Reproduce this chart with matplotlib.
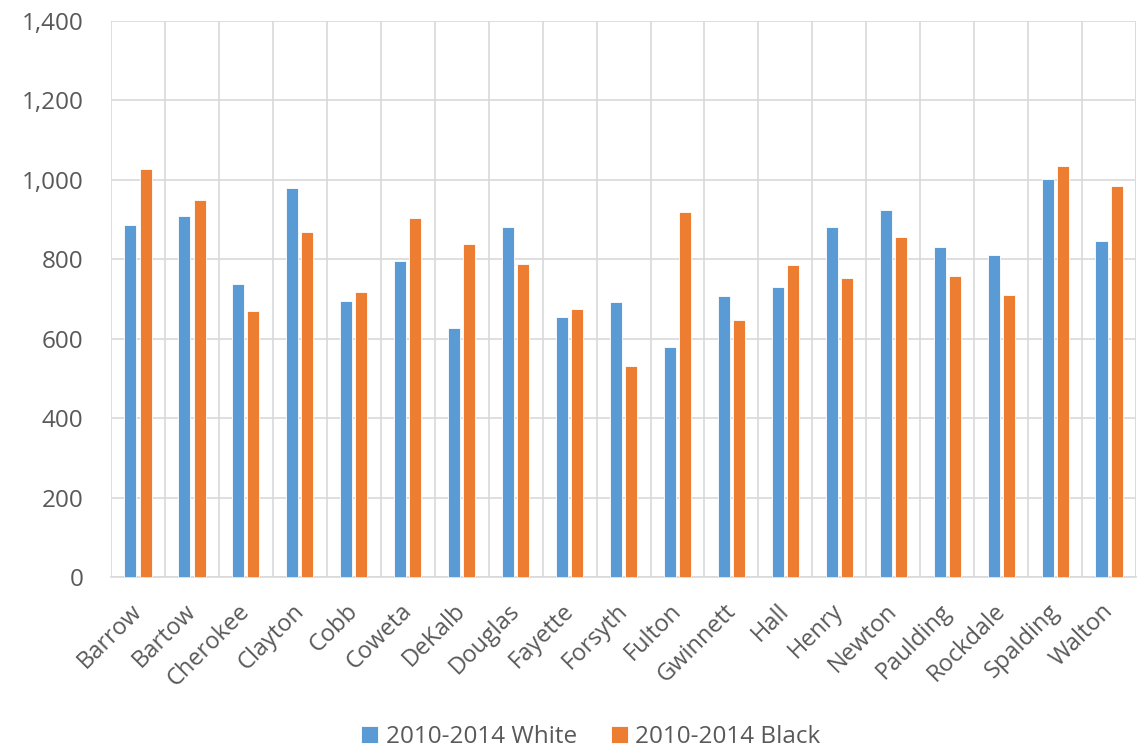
import matplotlib
matplotlib.use("Agg")
import matplotlib.pyplot as plt
import numpy as np
from matplotlib.ticker import FuncFormatter, MultipleLocator

counties = ["Barrow", "Bartow", "Cherokee", "Clayton", "Cobb", "Coweta", "DeKalb",
            "Douglas", "Fayette", "Forsyth", "Fulton", "Gwinnett", "Hall", "Henry",
            "Newton", "Paulding", "Rockdale", "Spalding", "Walton"]
white = [886, 909, 737, 979, 695, 796, 628, 882, 654, 692, 579, 707, 731, 882,
         925, 830, 811, 1003, 845]
black = [1028, 949, 669, 868, 717, 904, 838, 789, 674, 531, 918, 648, 785, 754,
         856, 759, 710, 1036, 985]
series_names = ["2010-2014 White", "2010-2014 Black"]

plt.rcParams['font.family'] = ['Open Sans', 'DejaVu Sans']
txt = "#595959"
grid = "#d9d9d9"

fig = plt.figure(figsize=(11.46, 7.51), dpi=100)
ax = fig.add_axes([0.0969, 0.2317, 0.8944, 0.7403])

x = np.arange(len(counties))
w = 0.223
off = 0.14
ax.bar(x - off, white, w, color="#5B9BD5", edgecolor="#ffffff", linewidth=0.6,
       label=series_names[0], zorder=3)
ax.bar(x + off, black, w, color="#ED7D31", edgecolor="#ffffff", linewidth=0.6,
       label=series_names[1], zorder=3)

ax.set_xlim(-0.5, len(counties) - 0.5)
ax.set_ylim(0, 1400)
ax.yaxis.set_major_locator(MultipleLocator(200))
ax.yaxis.set_major_formatter(FuncFormatter(lambda v, p: f"{int(v):,}"))

# label anchors nudged slightly left of category centres (Excel-style placement)
ax.set_xticks(x - 0.15)
ax.set_xticklabels(counties, rotation=45, ha="right", rotation_mode="anchor",
                   fontsize=17, color=txt)
ax.set_xticks(np.arange(-0.5, len(counties)), minor=True)
ax.tick_params(axis="x", which="both", length=0, pad=16)
ax.tick_params(axis="y", length=0, labelsize=17.5, labelcolor=txt, pad=20)

ax.grid(axis="y", color=grid, linewidth=1.2, zorder=0)
ax.grid(axis="x", which="minor", color=grid, linewidth=1.2, zorder=0)
ax.grid(axis="x", which="major", visible=False)
for s in ["top", "right", "left"]:
    ax.spines[s].set_visible(False)
ax.spines["bottom"].set_color(grid)
ax.spines["bottom"].set_linewidth(1.2)
ax.axvline(len(counties) - 0.5, color=grid, linewidth=1.2, zorder=0)

leg = ax.legend(loc="center", bbox_to_anchor=(0.5 - 0.032, -0.288), ncol=2,
                frameon=False, fontsize=17.5, handlelength=0.7, handleheight=0.7,
                columnspacing=1.4, handletextpad=0.3)
for t in leg.get_texts():
    t.set_color(txt)

fig.savefig("out.png", dpi=100)
